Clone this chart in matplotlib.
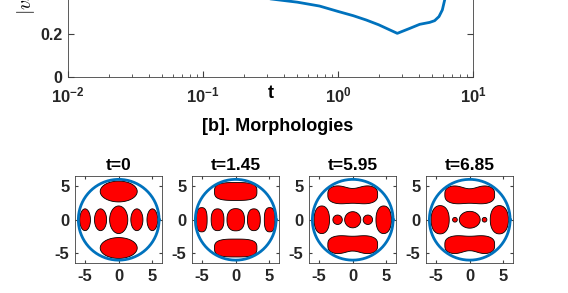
import numpy as np
import matplotlib
matplotlib.use("Agg")
import matplotlib.pyplot as plt
from matplotlib.ticker import FuncFormatter

plt.rcParams['font.family'] = 'Liberation Sans'
plt.rcParams['font.weight'] = 'bold'
plt.rcParams['axes.unicode_minus'] = False
plt.rcParams['mathtext.fontset'] = 'custom'
plt.rcParams['mathtext.rm'] = 'Liberation Sans:bold'
plt.rcParams['mathtext.bf'] = 'Liberation Sans:bold'

# [a] peak radial velocity vs time (only lower part visible)
t  = [0.30, 0.37, 0.50, 0.73, 1.00, 1.30, 1.62, 2.00, 2.75,
      3.40, 4.03, 4.78, 5.20, 5.60, 5.93, 6.17, 6.25]
vr = [0.365, 0.358, 0.348, 0.330, 0.305, 0.285, 0.265, 0.243, 0.203,
      0.226, 0.245, 0.254, 0.262, 0.281, 0.312, 0.358, 0.38]

# [b] morphologies: domain radius and droplets
R = 6.0
times = ['t=0', 't=1.45', 't=5.95', 't=6.85']
# droplet: centre x, centre y, half width, half height, squareness, dent of upper edge, dent of lower edge
drops_t0 = [(0, 4.2, 2.75, 1.55, 2.0, 0, 0), (0, -4.2, 2.75, 1.55, 2.0, 0, 0),
            (0, 0, 1.35, 2.05, 2.0, 0, 0),
            (-2.7, 0, 0.9, 1.62, 2.0, 0, 0), (2.7, 0, 0.9, 1.62, 2.0, 0, 0),
            (-5.0, 0, 0.8, 1.62, 2.0, 0, 0), (5.0, 0, 0.8, 1.62, 2.0, 0, 0)]
drops_t1 = [(0, 4.2, 3.15, 1.33, 3.2, 0, 0), (0, -4.2, 3.15, 1.33, 3.2, 0, 0),
            (0, 0, 1.3, 1.65, 2.4, 0, 0),
            (-2.7, 0, 0.95, 1.62, 2.4, 0, 0), (2.7, 0, 0.95, 1.62, 2.4, 0, 0),
            (-5.05, 0, 0.8, 1.8, 2.6, 0, 0), (5.05, 0, 0.8, 1.8, 2.6, 0, 0)]
drops_t2 = [(0, 3.75, 3.7, 1.5, 3.0, -0.6, 0.2), (0, -3.75, 3.7, 1.5, 3.0, -0.2, 0.6),
            (0, 0, 1.2, 1.2, 2.0, 0, 0),
            (-2.25, 0, 0.7, 0.7, 2.0, 0, 0), (2.25, 0, 0.7, 0.7, 2.0, 0, 0),
            (-4.6, 0, 1.15, 2.05, 2.2, 0, 0), (4.6, 0, 1.15, 2.05, 2.2, 0, 0)]
drops_t3 = [(0, 3.75, 3.7, 1.5, 3.0, -0.65, 0.2), (0, -3.75, 3.7, 1.5, 3.0, -0.2, 0.65),
            (0, 0, 1.55, 1.25, 2.0, 0, 0),
            (-2.2, 0, 0.35, 0.35, 2.0, 0, 0), (2.2, 0, 0.35, 0.35, 2.0, 0, 0),
            (-4.4, 0, 1.35, 2.1, 2.2, 0, 0), (4.4, 0, 1.35, 2.1, 2.2, 0, 0)]
panels = [drops_t0, drops_t1, drops_t2, drops_t3]


def outline(cx, cy, a, b, p, du, dl):
    "superellipse outline with optional dent in the middle of the upper/lower edge"
    th = np.linspace(0, 2*np.pi, 240)
    c, s = np.cos(th), np.sin(th)
    x = a*np.sign(c)*np.abs(c)**(2/p)
    y = b*np.sign(s)*np.abs(s)**(2/p)
    g = np.exp(-(x/a/0.45)**2)
    y = y + np.where(s > 0, du, dl)*g
    return cx + x, cy + y


fig = plt.figure(figsize=(5.68, 2.93), dpi=100)

blue = '#0072BD'
spine = '#404040'

ax = fig.add_axes([0.1197, 0.7372, 0.713, 0.5137])
ax.plot(t, vr, color=blue, lw=2.0)
ax.set_xscale('log')
ax.set_xlim(1e-2, 1e1)
ax.set_ylim(0, 0.7)
ax.set_yticks([0, 0.2])
ax.yaxis.set_major_formatter(FuncFormatter(lambda v, p: '%g' % v))
ax.xaxis.set_major_formatter(FuncFormatter(lambda v, p: r'$\mathbf{10^{%d}}$' % round(np.log10(v))))
ax.tick_params(which='both', direction='in', top=True, right=True, labelsize=12,
               colors=spine, labelcolor='#262626')
ax.tick_params(axis='y', labelsize=11.5)
ax.tick_params(which='major', length=4)
ax.tick_params(which='minor', length=2)
ax.tick_params(axis='x', which='major', pad=6)
ax.tick_params(axis='y', which='major', pad=4)
for sp in ax.spines.values():
    sp.set_color(spine)
    sp.set_linewidth(0.6)
ax.set_xlabel('t', fontsize=13, fontweight='bold')
ax.xaxis.set_label_coords(0.5, -0.05)
ax.set_ylabel(r'$|v_r|$', math_fontfamily='cm', fontsize=14, labelpad=2)

fig.text(0.489, 0.567, '[b]. Morphologies', ha='center', va='center', fontsize=13)

th = np.linspace(0, 2*np.pi, 300)
for i, (title, drops) in enumerate(zip(times, panels)):
    axp = fig.add_axes([0.132 + i*0.206, 0.1007, 0.154, 0.2986])
    for d in drops:
        x, y = outline(*d)
        axp.fill(x, y, facecolor='#FF0000', edgecolor='k', lw=0.6)
    axp.plot(R*np.cos(th), R*np.sin(th), color=blue, lw=2.0)
    axp.set_xlim(-6.5, 6.5)
    axp.set_ylim(-6.5, 6.5)
    axp.set_xticks([-5, 0, 5])
    axp.set_yticks([-5, 0, 5])
    axp.tick_params(direction='in', top=True, right=True, length=2, labelsize=12,
                    colors=spine, labelcolor='#262626', pad=4)
    for sp in axp.spines.values():
        sp.set_color(spine)
        sp.set_linewidth(0.6)
    axp.set_title(title, fontsize=12.5, fontweight='bold', pad=4)

fig.savefig('out.png', dpi=100)
